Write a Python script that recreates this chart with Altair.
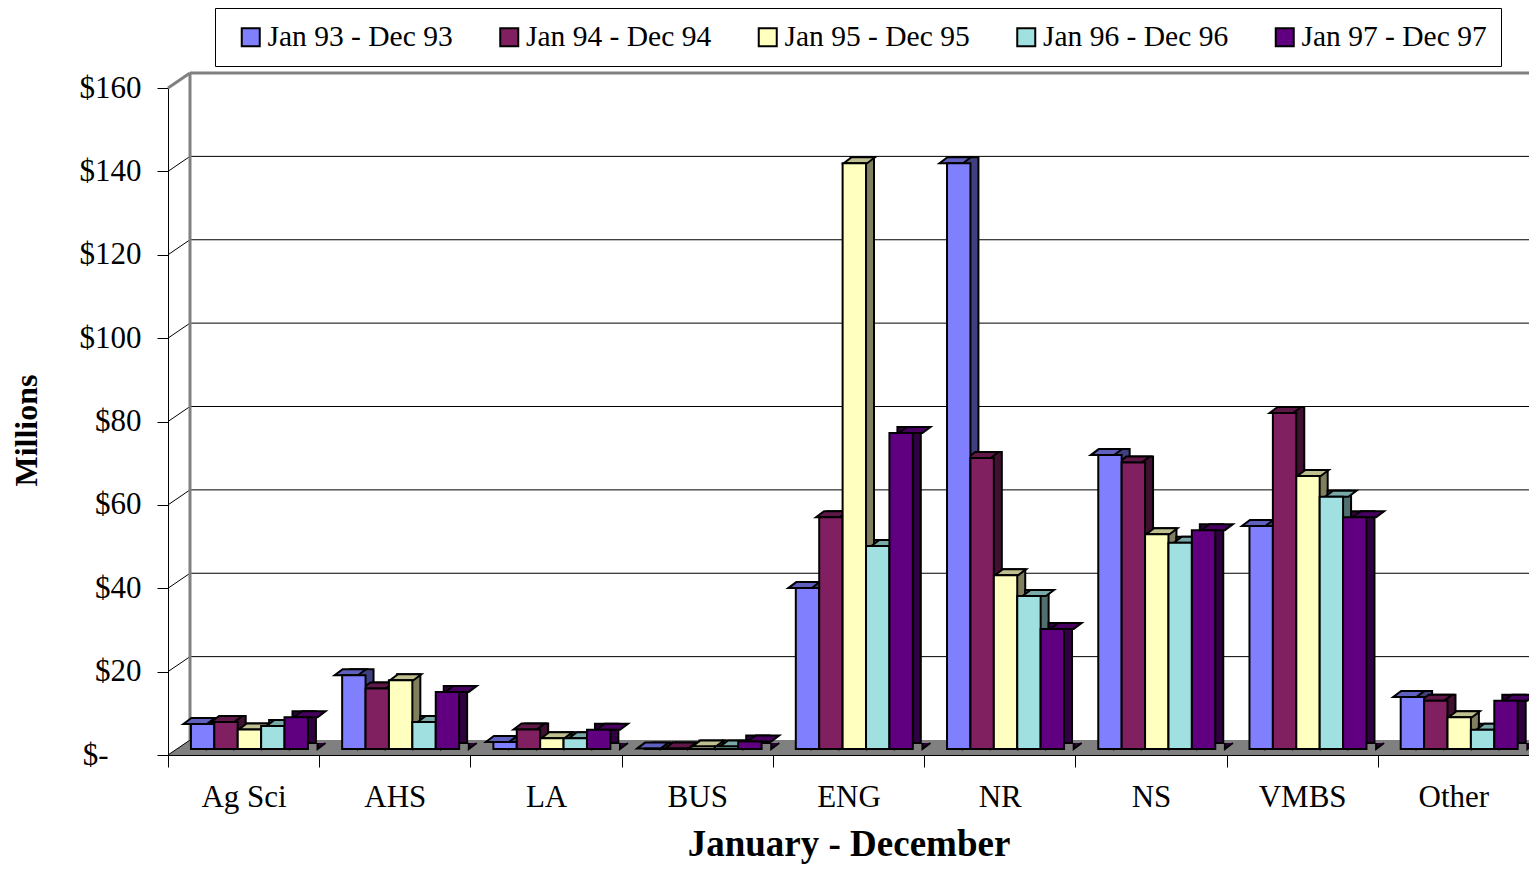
import altair as alt
import pandas as pd

# ---------------- data ----------------
categories = ["Ag Sci", "AHS", "LA", "BUS", "ENG", "NR", "NS", "VMBS", "Other"]
series = ["Jan 93 - Dec 93", "Jan 94 - Dec 94", "Jan 95 - Dec 95",
          "Jan 96 - Dec 96", "Jan 97 - Dec 97"]
v93 = [6.0, 17.7, 1.7, 0.1, 38.6, 140.5, 70.5, 53.5, 12.5]
v94 = [6.5, 14.5, 4.7, 0.1, 55.6, 69.8, 68.7, 80.6, 11.6]
v95 = [4.7, 16.5, 2.6, 0.6, 140.5, 41.7, 51.5, 65.5, 7.6]
v96 = [5.5, 6.5, 2.6, 0.6, 48.7, 36.7, 49.5, 60.5, 4.6]
v97 = [7.6, 13.7, 4.6, 1.8, 75.8, 28.8, 52.5, 55.6, 11.6]
y_ticks = [0, 20, 40, 60, 80, 100, 120, 140, 160]

# ---------------- styles ----------------
front_colors = ["#8080FF", "#802060", "#FFFFC0", "#A0E0E0", "#600080"]
cap_colors = ["#6060BF", "#601848", "#BFBF90", "#78A8A8", "#480060"]
side_colors = ["#404080", "#401030", "#808060", "#507070", "#300040"]
FONT = "Liberation Serif"
W, H = 1361, 667
WALL_DX, WALL_DY = 22, 15      # back-wall shift
BAR_DX, BAR_DY = 8, 6          # bar depth
LIFT = 6                       # bar front plane above floor front edge
HALF = 11.7                    # half bar width in px (for cap paths)

values = [v93, v94, v95, v96, v97]
rows = []
for si, s in enumerate(series):
    for ci, c in enumerate(categories):
        rows.append({"cat": c, "series": s, "value": values[si][ci],
                     "cap": cap_colors[si], "side": side_colors[si]})
df = pd.DataFrame(rows)
ticks_df = pd.DataFrame({"v": y_ticks})
wall_df = pd.DataFrame({"top": [max(y_ticks)], "bottom": [min(y_ticks)]})

xscale = alt.Scale(domain=categories, paddingInner=0, paddingOuter=0)
yscale = alt.Scale(domain=[0, 160], nice=False, zero=True)
xo_front = alt.Scale(domain=series, paddingInner=0, paddingOuter=0.731, align=0.67)
xo_back = alt.Scale(domain=series, paddingInner=0, paddingOuter=0.731, align=0.9035)

x_axis = alt.Axis(title="January - December", tickBand="extent", tickSize=12,
                  tickColor="black", domainColor="black", labelAngle=0,
                  labelFont=FONT, labelFontSize=31, labelColor="black",
                  labelBaseline="alphabetic", labelPadding=39,
                  titleFont=FONT, titleFontSize=37, titleFontWeight="bold",
                  titleColor="black", titleBaseline="alphabetic", titleY=100,
                  grid=False, orient="bottom")
y_axis = alt.Axis(values=y_ticks, orient="left",
                  labelExpr="datum.value == 0 ? '$-' : '$' + datum.value",
                  tickSize=11, tickColor="black", domainColor="black",
                  labelPadding={"condition": {"test": "datum.value == 0", "value": 49},
                                "value": 16},
                  labelFont=FONT, labelFontSize=31, labelColor="black",
                  title="Millions", titleAngle=-90, titleX=-132, titleY=342,
                  titleAlign="center", titleBaseline="alphabetic", titleFont=FONT,
                  titleFontSize=32, titleFontWeight="bold", titleColor="black",
                  grid=False)

X = alt.X("cat:N", sort=categories, scale=xscale, axis=x_axis)

# floor (gray parallelogram)
floor_path = f"M0,0 L{W},0 L{W + WALL_DX},{-WALL_DY} L{WALL_DX},{-WALL_DY} Z"
floor = alt.Chart(wall_df).mark_point(shape=floor_path, size=4, filled=True,
                                      fill="#808080", opacity=1, strokeWidth=0).encode(
    x=alt.value(0), y=alt.value(H))

grid = alt.Chart(ticks_df).transform_filter("datum.v > 0 && datum.v < 160").mark_rule(
    color="black", strokeWidth=1, yOffset=-WALL_DY).encode(
    x=alt.value(WALL_DX), x2=alt.value(W),
    y=alt.Y("v:Q", scale=yscale, axis=y_axis))

connectors = alt.Chart(ticks_df).transform_filter("datum.v < 160").mark_rule(
    color="black", strokeWidth=1, y2Offset=-WALL_DY).encode(
    x=alt.value(0), x2=alt.value(WALL_DX),
    y=alt.Y("v:Q", scale=yscale, axis=y_axis), y2="v:Q")

wall_top = alt.Chart(wall_df).mark_rule(color="#808080", strokeWidth=3,
                                        yOffset=-WALL_DY).encode(
    x=alt.value(WALL_DX), x2=alt.value(W),
    y=alt.Y("top:Q", scale=yscale, axis=y_axis))
wall_diag = alt.Chart(wall_df).mark_rule(color="#808080", strokeWidth=3,
                                         y2Offset=-WALL_DY).encode(
    x=alt.value(0), x2=alt.value(WALL_DX),
    y=alt.Y("top:Q", scale=yscale, axis=y_axis), y2="top:Q")
wall_left = alt.Chart(wall_df).mark_rule(color="#808080", strokeWidth=3,
                                         yOffset=-WALL_DY, y2Offset=-WALL_DY).encode(
    x=alt.value(WALL_DX),
    y=alt.Y("top:Q", scale=yscale, axis=y_axis), y2="bottom:Q")

sides = alt.Chart(df).mark_bar(stroke="black", strokeWidth=2,
                               yOffset=-(LIFT + BAR_DY), y2Offset=-(LIFT + BAR_DY)).encode(
    x=X, xOffset=alt.XOffset("series:N", sort=series, scale=xo_back),
    y=alt.Y("value:Q", scale=yscale, axis=y_axis),
    fill=alt.Fill("side:N", scale=None))

side_bottom_path = f"M{HALF + BAR_DX},{-BAR_DY} L{HALF},0 L{HALF},{-BAR_DY}"
side_bottoms = alt.Chart(df).mark_point(shape=side_bottom_path, size=4, filled=True,
                                        opacity=1, stroke="black", strokeWidth=2,
                                        yOffset=-LIFT).encode(
    x=X, xOffset=alt.XOffset("series:N", sort=series, scale=xo_front),
    y=alt.Y(datum=0, scale=yscale, axis=y_axis),
    fill=alt.Fill("side:N", scale=None))

cap_path = (f"M{-HALF},0 L{HALF},0 L{HALF + BAR_DX},{-BAR_DY} "
            f"L{-HALF + BAR_DX},{-BAR_DY} Z")
caps = alt.Chart(df).mark_point(shape=cap_path, size=4, filled=True, opacity=1,
                                stroke="black", strokeWidth=2, yOffset=-LIFT).encode(
    x=X, xOffset=alt.XOffset("series:N", sort=series, scale=xo_front),
    y=alt.Y("value:Q", scale=yscale, axis=y_axis),
    fill=alt.Fill("cap:N", scale=None))

legend = alt.Legend(orient="none", legendX=47, legendY=-80, direction="horizontal",
                    columns=5, title=None, symbolType="square", symbolSize=324,
                    symbolStrokeColor="black", symbolStrokeWidth=2, symbolOffset=7,
                    labelFont=FONT, labelFontSize=29.5, labelColor="black", labelOffset=2,
                    labelLimit=400, columnPadding=34.5, padding=14,
                    strokeColor="black", fillColor="white")

fronts = alt.Chart(df).mark_bar(stroke="black", strokeWidth=2,
                                yOffset=-LIFT, y2Offset=-LIFT, opacity=1).encode(
    x=X, xOffset=alt.XOffset("series:N", sort=series, scale=xo_front),
    y=alt.Y("value:Q", scale=yscale, axis=y_axis),
    color=alt.Color("series:N", sort=series,
                    scale=alt.Scale(domain=series, range=front_colors), legend=legend))

chart = alt.layer(floor, grid, connectors, wall_top, wall_diag, wall_left,
                  sides, side_bottoms, caps, fronts).resolve_scale(
    xOffset="independent").properties(
    width=W, height=H,
    autosize=alt.AutoSizeParams(type="none"),
    padding={"left": 160, "top": 80, "right": 0, "bottom": 110},
    background="white").configure_view(strokeWidth=0)

chart.save("out.html", embed_options={"renderer": "svg", "actions": False})
